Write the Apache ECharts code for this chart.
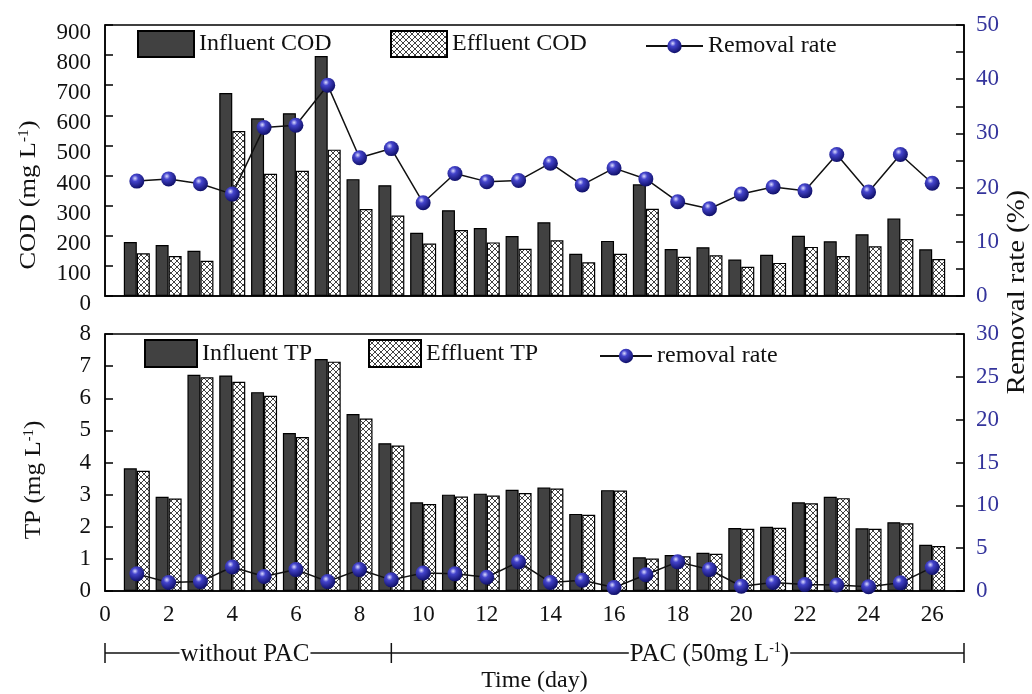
<!DOCTYPE html>
<html><head><meta charset="utf-8">
<script src="https://cdn.jsdelivr.net/npm/echarts@6/dist/echarts.min.js"></script>
<style>html,body{margin:0;padding:0;background:#fff}#c{width:1032px;height:694px}</style>
</head><body><div id="c"></div>
<script>
const days = [1,2,3,4,5,6,7,8,9,10,11,12,13,14,15,16,17,18,19,20,21,22,23,24,25,26];
const codInfluent = [179,169,150,674,590,607,797,388,368,210,285,226,199,245,140,183,371,156,162,121,137,200,182,205,257,155];
const codEffluent = [142,133,117,548,406,416,486,289,267,174,219,178,157,185,112,140,290,130,135,97,110,163,133,165,189,123];
const codRemoval = [21.2,21.6,20.7,18.8,31.1,31.5,38.9,25.5,27.2,17.2,22.6,21.1,21.3,24.5,20.5,23.6,21.6,17.4,16.1,18.8,20.1,19.4,26.1,19.2,26.1,20.8];
const tpInfluent = [3.82,2.93,6.73,6.71,6.19,4.92,7.22,5.51,4.60,2.76,3.00,3.03,3.15,3.22,2.40,3.14,1.05,1.12,1.19,1.96,2.00,2.76,2.93,1.95,2.14,1.44];
const tpEffluent = [3.74,2.88,6.65,6.51,6.08,4.79,7.14,5.37,4.53,2.71,2.94,2.97,3.05,3.19,2.37,3.13,1.01,1.08,1.16,1.94,1.97,2.73,2.89,1.94,2.11,1.40];
const tpRemoval = [2.0,1.0,1.1,2.8,1.7,2.5,1.1,2.5,1.3,2.1,2.0,1.6,3.4,1.0,1.25,0.4,1.9,3.4,2.5,0.55,1.0,0.75,0.7,0.5,0.95,2.75];
const xTickLabels = ['0','2','4','6','8','10','12','14','16','18','20','22','24','26'];
const phaseLabels = ['without PAC', 'PAC (50mg L{sup|-1})'];
const phaseBounds = [0, 9, 27];

const FONT = 'Liberation Serif';
const BLUE = '#34349c';

function hatch(){
  const c = document.createElement('canvas'); c.width = 6; c.height = 6;
  const g = c.getContext('2d');
  g.fillStyle = '#fff'; g.fillRect(0,0,6,6);
  g.strokeStyle = '#111'; g.lineWidth = 0.8;
  g.beginPath(); g.moveTo(0,0); g.lineTo(6,6); g.moveTo(6,0); g.lineTo(0,6); g.stroke();
  return c;
}
const hatchFill = {image: hatch(), repeat: 'repeat'};
const sphere = {type:'radial', x:0.38, y:0.32, r:0.7, colorStops:[
  {offset:0, color:'#dcdcff'},{offset:0.3, color:'#4444cc'},{offset:1, color:'#0e0e66'}]};

const pair = (xs, ys) => xs.map((d,i)=>[d, ys[i]]);
const darkStyle = {color:'#414141', borderColor:'#000', borderWidth:1.2};
const hatchStyle = {color:hatchFill, borderColor:'#000', borderWidth:1.2};

const chart = echarts.init(document.getElementById('c'), null, {renderer:'canvas'});

function yAx(grid, pos, min, max, interval, opts){
  return Object.assign({
    type:'value', gridIndex:grid, position:pos, min:min, max:max, interval:interval,
    axisLine:{show:true, lineStyle:{color:'#000', width:1.5}},
    axisTick:{show:true, inside:true, length:8, lineStyle:{color:'#000', width:1.5}},
    splitLine:{show:false},
    axisLabel:{fontFamily:FONT, fontSize:23, color: pos==='left'?'#111':BLUE, margin: pos==='left'?14:12}
  }, opts||{});
}

const legendBase = {padding:0, selectedMode:false, textStyle:{fontFamily:FONT, fontSize:24, color:'#111'}};
const lg = (name, left, top, w, h, icon) => Object.assign({}, legendBase,
  {data: icon ? [{name:name, icon:icon}] : [name], left:left, top:top, itemWidth:w, itemHeight:h});

const option = {
  backgroundColor:'#fff',
  animation:false,
  grid:[
    {left:105, top:25, width:859, height:271, show:true, borderColor:'#000', borderWidth:1.5},
    {left:105, top:334, width:859, height:271, show:true, borderColor:'#000', borderWidth:1.5}
  ],
  legend:[
    lg('Influent COD', 137, 30, 56, 26, 'rect'),
    lg('Effluent COD', 390, 30, 56, 26, 'rect'),
    lg('Removal rate', 645, 34, 57, 18),
    lg('Influent TP', 144, 339, 52, 27, 'rect'),
    lg('Effluent TP', 368, 339, 52, 27, 'rect'),
    lg('removal rate', 599, 344, 52, 18)
  ],
  xAxis:[
    {type:'value', gridIndex:0, min:0, max:27, interval:2,
      axisLine:{show:true, lineStyle:{color:'#000', width:1.5}}, axisTick:{show:false},
      axisLabel:{show:false}, splitLine:{show:false}},
    {type:'value', gridIndex:1, min:0, max:27, interval:2,
      axisLine:{show:true, lineStyle:{color:'#000', width:1.5}}, axisTick:{show:false},
      axisLabel:{fontFamily:FONT, fontSize:23, color:'#111', margin:12, showMaxLabel:false,
        formatter:(v)=> xTickLabels.indexOf(String(v))>=0 ? String(v) : ''},
      splitLine:{show:false},
      name:'Time (day)', nameLocation:'middle', nameGap:78,
      nameTextStyle:{fontFamily:FONT, fontSize:24, color:'#111'}}
  ],
  yAxis:[
    yAx(0,'left',0,900,100,{axisLabel:{fontFamily:FONT, fontSize:23, color:'#111', margin:14, verticalAlign:'top', lineHeight:16}}),
    yAx(0,'right',0,50,10,{minorTick:{show:true, splitNumber:2, length:8, lineStyle:{color:'#000', width:1.5}}}),
    yAx(1,'left',0,8,1),
    yAx(1,'right',0,30,5)
  ],
  series:[
    {name:'Influent COD', type:'bar', xAxisIndex:0, yAxisIndex:0, data:pair(days,codInfluent), barWidth:13, barGap:'0%', itemStyle:darkStyle},
    {name:'Effluent COD', type:'bar', xAxisIndex:0, yAxisIndex:0, data:pair(days,codEffluent), barWidth:13, barGap:'0%', itemStyle:hatchStyle},
    {name:'Removal rate', type:'line', xAxisIndex:0, yAxisIndex:1, data:pair(days,codRemoval), symbol:'circle', symbolSize:15,
      lineStyle:{color:'#111', width:1.5}, itemStyle:{color:sphere, borderWidth:0}, z:5},
    {name:'Influent TP', type:'bar', xAxisIndex:1, yAxisIndex:2, data:pair(days,tpInfluent), barWidth:13, barGap:'0%', itemStyle:darkStyle},
    {name:'Effluent TP', type:'bar', xAxisIndex:1, yAxisIndex:2, data:pair(days,tpEffluent), barWidth:13, barGap:'0%', itemStyle:hatchStyle},
    {name:'removal rate', type:'line', xAxisIndex:1, yAxisIndex:3, data:pair(days,tpRemoval), symbol:'circle', symbolSize:15,
      lineStyle:{color:'#111', width:1.5}, itemStyle:{color:sphere, borderWidth:0}, z:5}
  ]
};
chart.setOption(option);

// annotations: rotated axis titles and treatment-phase bracket
const px = v => chart.convertToPixel({xAxisIndex:1}, v);
const bracketY = 653;
const sup = {sup:{fontSize:14, verticalAlign:'top', fontFamily:FONT, fill:'#111'}};
const graphics = [
  {type:'text', x:29, y:195, rotation:Math.PI/2, scaleX:1.1,
    style:{text:'COD (mg L{sup|-1})', fontFamily:FONT, fontSize:24, fill:'#111', align:'center', verticalAlign:'middle', rich:sup}},
  {type:'text', x:34, y:480, rotation:Math.PI/2, scaleX:1.05,
    style:{text:'TP (mg L{sup|-1})', fontFamily:FONT, fontSize:24, fill:'#111', align:'center', verticalAlign:'middle', rich:sup}},
  {type:'text', x:1017, y:292, rotation:Math.PI/2, scaleX:1.15,
    style:{text:'Removal rate (%)', fontFamily:FONT, fontSize:25, fill:'#111', align:'center', verticalAlign:'middle'}},
  {type:'line', shape:{x1:px(phaseBounds[0]), y1:bracketY, x2:px(phaseBounds[2]), y2:bracketY}, style:{stroke:'#111', lineWidth:1.5}}
];
phaseBounds.forEach(b => graphics.push({type:'line', shape:{x1:px(b), y1:bracketY-10, x2:px(b), y2:bracketY+10}, style:{stroke:'#111', lineWidth:1.5}}));
const phaseCenters = [4.4, 19.0];
phaseLabels.forEach((t,i) => graphics.push({type:'text', x:px(phaseCenters[i]), y:bracketY+1, z:10,
  style:{text:t, fontFamily:FONT, fontSize:25, fill:'#111', align:'center', verticalAlign:'middle', backgroundColor:'#fff', padding:[0,1], rich:sup}}));
chart.setOption({graphic:graphics});
</script></body></html>
